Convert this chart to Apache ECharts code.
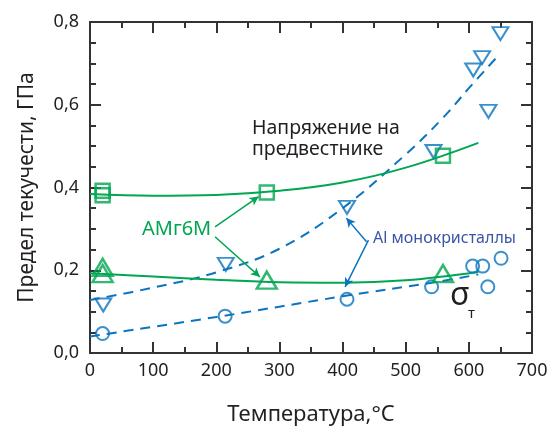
<!DOCTYPE html>
<html>
<head>
<meta charset="utf-8">
<script src="https://cdn.jsdelivr.net/npm/echarts@6/dist/echarts.min.js"></script>
<style>
  html, body { margin: 0; padding: 0; background: #fff; }
  #chart { width: 552px; height: 427px; }
</style>
</head>
<body>
<div id="chart"></div>
<script>
// АМг6М: yield stress at the precursor (squares) and yield strength (triangles)
const amgSquareT = [20, 20, 280, 559];
const amgSquareS = [0.392, 0.381, 0.388, 0.477];
const amgTriT = [20, 20, 280, 559];
const amgTriS = [0.207, 0.192, 0.176, 0.192];

// Al single crystals: precursor stress (down triangles) and yield strength (circles)
const alTriT = [21, 215, 407, 544, 607, 621, 631, 650];
const alTriS = [0.116, 0.214, 0.352, 0.487, 0.684, 0.714, 0.584, 0.772];
const alCircT = [20, 214, 407, 541, 606, 622, 630, 651];
const alCircS = [0.047, 0.089, 0.130, 0.160, 0.210, 0.210, 0.160, 0.229];

// Trend curves (hand-drawn guides)
const amgUpperCurveT = [0, 100, 200, 300, 400, 500, 615];
const amgUpperCurveS = [0.384, 0.380, 0.382, 0.392, 0.412, 0.448, 0.508];
const amgLowerCurveT = [0, 100, 200, 300, 400, 500, 615];
const amgLowerCurveS = [0.193, 0.185, 0.177, 0.171, 0.170, 0.176, 0.196];
const alUpperCurveT = [0, 100, 200, 300, 400, 500, 560, 600, 645];
const alUpperCurveS = [0.128, 0.158, 0.195, 0.252, 0.350, 0.480, 0.570, 0.640, 0.716];
const alLowerCurveT = [0, 200, 400, 550, 615];
const alLowerCurveS = [0.040, 0.087, 0.137, 0.172, 0.190];

// Annotation arrows: [fromT, fromS, toT, toS]
const amgArrows = [[198, 0.305, 267, 0.378], [198, 0.281, 269, 0.184]];
const alArrows = [[438, 0.269, 406, 0.326], [441, 0.273, 404, 0.160]];

const xTicks = [0, 700, 100];
const yTicks = [0, 0.8, 0.2];

const GREEN = '#00a651';
const BLUE = '#0a74bf';
const INK = '#231f20';
const FONT = 'Noto Sans';

const pairs = (xs, ys) => xs.map((x, i) => [x, ys[i]]);
const arrowData = arr => arr.map(a => [{ coord: [a[0], a[1]] }, { coord: [a[2], a[3]] }]);

const axisCommon = {
  type: 'value',
  axisLine: { show: true, onZero: false, lineStyle: { color: '#333', width: 2 } },
  axisTick: { show: true, inside: true, length: 11, lineStyle: { color: '#333', width: 2 } },
  splitLine: { show: false }
};

const xBase = Object.assign({}, axisCommon, {
  min: xTicks[0], max: xTicks[1], interval: xTicks[2],
  minorTick: { show: true, splitNumber: 2, length: 6, lineStyle: { color: '#333', width: 2 } }
});
const yBase = Object.assign({}, axisCommon, {
  min: yTicks[0], max: yTicks[1], interval: yTicks[2],
  minorTick: { show: true, splitNumber: 4, length: 6, lineStyle: { color: '#333', width: 2 } }
});

const chart = echarts.init(document.getElementById('chart'));
chart.setOption({
  animation: false,
  grid: { left: 90, right: 20, top: 22, bottom: 74, outerBoundsMode: 'none' },
  xAxis: [
    Object.assign({}, xBase, {
      position: 'bottom',
      name: 'Температура,°C',
      nameLocation: 'middle',
      nameGap: 51,
      nameTextStyle: { color: INK, fontSize: 22, fontFamily: FONT },
      axisLabel: { color: INK, fontSize: 18, fontFamily: FONT, margin: 9 }
    }),
    Object.assign({}, xBase, { position: 'top', axisLabel: { show: false } })
  ],
  yAxis: [
    Object.assign({}, yBase, {
      position: 'left',
      name: 'Предел текучести, ГПа',
      nameLocation: 'middle',
      nameGap: 52,
      nameTextStyle: { color: INK, fontSize: 21, fontFamily: FONT },
      axisLabel: {
        color: INK, fontSize: 18, fontFamily: FONT, margin: 11,
        formatter: v => v.toFixed(1).replace('.', ',')
      }
    }),
    Object.assign({}, yBase, { position: 'right', axisLabel: { show: false } })
  ],
  series: [
    {
      type: 'line', smooth: 0.4, showSymbol: false, silent: true,
      data: pairs(alUpperCurveT, alUpperCurveS),
      lineStyle: { color: BLUE, width: 2, type: [10, 7] }, z: 2
    },
    {
      type: 'line', smooth: 0.4, showSymbol: false, silent: true,
      data: pairs(alLowerCurveT, alLowerCurveS),
      lineStyle: { color: BLUE, width: 2, type: [10, 7] }, z: 2
    },
    {
      type: 'line', smooth: 0.4, showSymbol: false, silent: true,
      data: pairs(amgUpperCurveT, amgUpperCurveS),
      lineStyle: { color: GREEN, width: 2 }, z: 3
    },
    {
      type: 'line', smooth: 0.4, showSymbol: false, silent: true,
      data: pairs(amgLowerCurveT, amgLowerCurveS),
      lineStyle: { color: GREEN, width: 2 }, z: 3
    },
    {
      type: 'scatter', symbol: 'circle', symbolSize: 13,
      data: pairs(alCircT, alCircS),
      itemStyle: { color: 'rgba(255,255,255,0)', borderColor: BLUE, borderWidth: 2 }, z: 4
    },
    {
      type: 'scatter', symbol: 'triangle', symbolRotate: 180, symbolSize: [16, 13],
      data: pairs(alTriT, alTriS),
      itemStyle: { color: 'rgba(255,255,255,0)', borderColor: BLUE, borderWidth: 2 }, z: 4,
      markLine: {
        silent: true, symbol: ['none', 'arrow'], symbolSize: [7, 9],
        label: { show: false },
        lineStyle: { color: BLUE, width: 1.5, type: 'solid' },
        data: arrowData(alArrows)
      }
    },
    {
      type: 'scatter', symbol: 'rect', symbolSize: 14,
      data: pairs(amgSquareT, amgSquareS),
      itemStyle: { color: 'rgba(255,255,255,0)', borderColor: GREEN, borderWidth: 2.5 }, z: 5
    },
    {
      type: 'scatter', symbol: 'triangle', symbolSize: [20, 17],
      data: pairs(amgTriT, amgTriS),
      itemStyle: { color: 'rgba(255,255,255,0)', borderColor: GREEN, borderWidth: 2.5 }, z: 5,
      markLine: {
        silent: true, symbol: ['none', 'arrow'], symbolSize: [7, 9],
        label: { show: false },
        lineStyle: { color: GREEN, width: 1.5, type: 'solid' },
        data: arrowData(amgArrows)
      }
    }
  ],
  graphic: [
    { type: 'text', x: 252, y: 128, style: { text: 'Напряжение на', fill: INK, fontSize: 19.5, fontFamily: FONT, textVerticalAlign: 'middle' } },
    { type: 'text', x: 252, y: 149, style: { text: 'предвестнике', fill: INK, fontSize: 19.5, fontFamily: FONT, textVerticalAlign: 'middle' } },
    { type: 'text', x: 142, y: 229, style: { text: 'АМг6М', fill: GREEN, fontSize: 20, fontFamily: FONT, textVerticalAlign: 'middle' } },
    { type: 'text', x: 373, y: 238, style: { text: 'Al монокристаллы', fill: '#3b55a6', fontSize: 16, fontFamily: FONT, textVerticalAlign: 'middle' } },
    { type: 'text', x: 450, y: 296, style: { text: 'σ', fill: INK, fontSize: 32, fontFamily: FONT, textVerticalAlign: 'middle' } },
    { type: 'text', x: 468, y: 314, style: { text: 'т', fill: INK, fontSize: 15, fontFamily: FONT, textVerticalAlign: 'middle' } }
  ]
});
</script>
</body>
</html>
